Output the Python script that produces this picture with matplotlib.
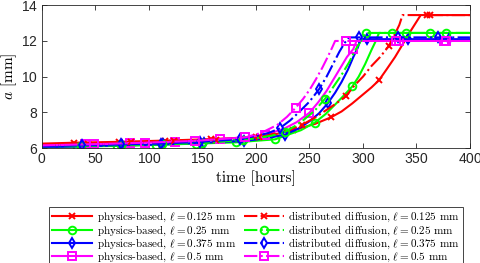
import numpy as np
import matplotlib
matplotlib.use("Agg")
import matplotlib.pyplot as plt

plt.rcParams["mathtext.fontset"] = "cm"
plt.rcParams["axes.formatter.use_mathtext"] = True

# crack length a [mm] vs time [hours]; pb = physics-based (solid), dd = distributed diffusion (dash-dot)
t_pb_0125 = [0, 30, 72, 115, 158, 200, 220, 235, 255, 270, 280, 290, 300, 308, 315, 322, 330, 337, 345, 354, 360, 400]
a_pb_0125 = [6.25, 6.3, 6.35, 6.42, 6.5, 6.62, 6.8, 7.0, 7.35, 7.72, 8.05, 8.5, 9.0, 9.4, 9.8, 10.4, 11.1, 11.8, 12.6, 13.45, 13.45, 13.45]
m_pb_0125 = [30, 72, 115, 158, 200, 235, 270, 315, 360]

t_dd_0125 = [0, 43, 83, 123, 163, 203, 215, 230, 243, 255, 265, 275, 284, 292, 300, 308, 316, 324, 330, 334, 337, 363, 400]
a_dd_0125 = [6.2, 6.25, 6.32, 6.4, 6.48, 6.6, 6.78, 7.0, 7.3, 7.7, 8.1, 8.5, 8.9, 9.5, 10.0, 10.6, 11.1, 11.7, 12.4, 12.9, 13.45, 13.45, 13.45]
m_dd_0125 = [43, 83, 123, 163, 203, 243, 284, 324, 363]

t_pb_025 = [0, 33, 70, 107, 144, 181, 218, 230, 242, 255, 265, 275, 283, 290, 296, 302, 308, 312, 315, 327, 363, 400]
a_pb_025 = [6.05, 6.08, 6.12, 6.18, 6.25, 6.32, 6.49, 6.75, 7.0, 7.43, 7.9, 8.5, 9.0, 9.45, 10.0, 10.7, 11.5, 12.0, 12.45, 12.45, 12.45, 12.45]
m_pb_025 = [33, 70, 107, 144, 181, 218, 255, 290, 327, 363]

t_dd_025 = [0, 36, 74, 112, 150, 188, 200, 215, 227, 237, 245, 255, 264.5, 272, 280, 287, 293, 298, 303, 340, 378, 400]
a_dd_025 = [6.1, 6.12, 6.15, 6.2, 6.28, 6.45, 6.55, 6.7, 6.91, 7.25, 7.6, 8.1, 8.76, 9.4, 10.1, 10.8, 11.5, 12.0, 12.45, 12.45, 12.45, 12.45]
m_dd_025 = [36, 74, 112, 150, 188, 227, 264.5, 303, 340, 378]

t_pb_0375 = [0, 37, 75, 113, 151, 189, 210, 227, 240, 250, 259, 267, 274, 280, 286, 291, 295, 298, 304, 342, 380, 400]
a_pb_0375 = [6.05, 6.1, 6.15, 6.2, 6.3, 6.4, 6.55, 6.75, 7.1, 7.5, 7.95, 8.5, 9.1, 9.7, 10.4, 11.1, 11.6, 12.1, 12.1, 12.1, 12.1, 12.1]
m_pb_0375 = [37, 75, 113, 151, 189, 227, 267, 304, 342, 380]

t_dd_0375 = [0, 37, 74, 111, 148, 185, 200, 212, 222, 232, 240, 250, 259, 266, 272, 278, 283, 287, 296, 333, 370, 400]
a_dd_0375 = [6.1, 6.15, 6.2, 6.25, 6.35, 6.5, 6.68, 6.85, 7.1, 7.55, 8.0, 8.6, 9.3, 10.0, 10.7, 11.4, 11.9, 12.2, 12.2, 12.2, 12.2, 12.2]
m_dd_0375 = [37, 74, 111, 148, 185, 222, 259, 296, 333, 370]

t_pb_05 = [0, 40, 82, 124, 166, 190, 208, 225, 238, 250, 258, 266, 273, 280, 285, 291, 294, 334, 376, 400]
a_pb_05 = [6.15, 6.2, 6.27, 6.35, 6.5, 6.6, 6.75, 7.05, 7.45, 7.98, 8.55, 9.2, 9.9, 10.6, 11.1, 11.55, 12.0, 12.0, 12.0, 12.0]
m_pb_05 = [40, 82, 124, 166, 208, 250, 291, 334, 376]

t_dd_05 = [0, 49, 96, 143, 190, 205, 220, 229, 237, 244, 250, 256, 262, 267, 271, 274, 284, 331, 378, 400]
a_dd_05 = [6.15, 6.22, 6.3, 6.4, 6.6, 6.85, 7.3, 7.75, 8.25, 8.75, 9.25, 9.85, 10.5, 11.1, 11.6, 12.0, 12.0, 12.0, 12.0, 12.0]
m_dd_05 = [49, 96, 143, 190, 237, 284, 331, 378]

ells = ["0.125", "0.25", "0.375", "0.5"]
colors = ["#ff0000", "#00ff00", "#0000ff", "#ff00ff"]
markers = ["x", "o", "d", "s"]

pb = [(t_pb_0125, a_pb_0125, m_pb_0125), (t_pb_025, a_pb_025, m_pb_025),
      (t_pb_0375, a_pb_0375, m_pb_0375), (t_pb_05, a_pb_05, m_pb_05)]
dd = [(t_dd_0125, a_dd_0125, m_dd_0125), (t_dd_025, a_dd_025, m_dd_025),
      (t_dd_0375, a_dd_0375, m_dd_0375), (t_dd_05, a_dd_05, m_dd_05)]

fig = plt.figure(figsize=(4.81, 2.63), dpi=100)
ax = fig.add_axes([0.0873, 0.437, 0.8897, 0.543])

handles = []
labels = []
for group, ls, name in [(pb, "-", "physics-based"), (dd, "-.", "distributed diffusion")]:
    for (t, a, m), col, mk, ell in zip(group, colors, markers, ells):
        idx = [i for i, v in enumerate(t) if v in m]
        h, = ax.plot(t, a, ls, color=col, lw=1.5, marker=mk, markevery=idx,
                     mfc="none", mec=col, ms=5.5 if mk != "x" else 5, mew=1.4)
        handles.append(h)
        labels.append(r"%s, $\ell = %s$ mm" % (name, ell))

ax.set_xlim(0, 400)
ax.set_ylim(6, 14)
ax.set_xticks(np.arange(0, 401, 50))
ax.set_yticks([6, 8, 10, 12, 14])
ax.tick_params(direction="in", top=True, right=True, length=3.5, width=0.6,
               colors="#262626", labelsize=10, pad=3)
for lab in ax.get_xticklabels() + ax.get_yticklabels():
    lab.set_family("Liberation Sans")
for s in ax.spines.values():
    s.set_color("#262626")
    s.set_linewidth(0.6)

ax.set_xlabel("time [hours]", family="cmr10", fontsize=11, labelpad=3)
ax.set_ylabel(r"$a$ [mm]", family="cmr10", fontsize=11, labelpad=1)

# two-column legend box under the axes
leg = fig.legend(handles, labels, ncol=2, loc="upper center",
                 bbox_to_anchor=(0.532, 0.235), prop={"family": "cmr10", "size": 8},
                 handlelength=3.6, handletextpad=0.4, columnspacing=0.7,
                 labelspacing=-0.1, borderpad=0.3, fancybox=False,
                 edgecolor="#262626", framealpha=1)
leg.get_frame().set_linewidth(0.6)

fig.savefig("out.png", dpi=100)
